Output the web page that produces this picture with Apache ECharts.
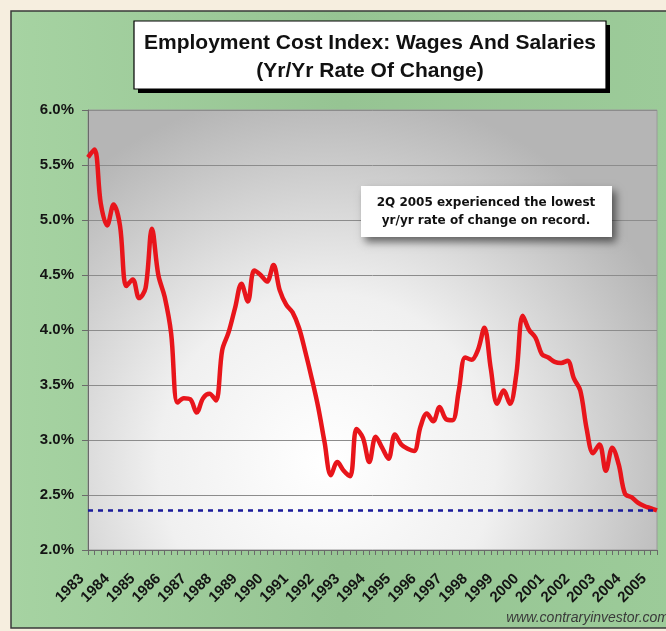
<!DOCTYPE html>
<html>
<head>
<meta charset="utf-8">
<title>Employment Cost Index: Wages And Salaries</title>
<script src="https://cdn.jsdelivr.net/npm/echarts@6/dist/echarts.min.js"></script>
<style>
  html, body { margin: 0; padding: 0; background: #f6eedf; }
  #chart { width: 666px; height: 631px; }
</style>
</head>
<body>
<div id="chart"></div>
<script>
// Year list used for the quarterly category axis (1983 Q1 .. 2005 Q2)
const years = [1983, 1984, 1985, 1986, 1987, 1988, 1989, 1990, 1991, 1992, 1993, 1994,
               1995, 1996, 1997, 1998, 1999, 2000, 2001, 2002, 2003, 2004, 2005];
const quarterNames = ['Q1', 'Q2', 'Q3', 'Q4'];

// ECI wages & salaries, year-over-year % change, one value per quarter
const wageGrowth = [
  5.57, 5.64, 5.15, 4.95, 5.14, 4.95, 4.40, 4.46, 4.29, 4.38,
  4.92, 4.50, 4.30, 3.97, 3.34, 3.38, 3.37, 3.25, 3.38, 3.42,
  3.36, 3.82, 3.98, 4.20, 4.42, 4.26, 4.54, 4.50, 4.44, 4.59,
  4.36, 4.23, 4.16, 4.02, 3.80, 3.56, 3.30, 2.98, 2.68, 2.80,
  2.72, 2.67, 3.10, 3.02, 2.80, 3.03, 2.93, 2.83, 3.05, 2.96,
  2.92, 2.90, 3.12, 3.24, 3.17, 3.30, 3.19, 3.18, 3.45, 3.75,
  3.73, 3.82, 4.02, 3.65, 3.33, 3.45, 3.33, 3.60, 4.13, 4.00,
  3.93, 3.78, 3.75, 3.71, 3.70, 3.72, 3.56, 3.45, 3.10, 2.88,
  2.96, 2.72, 2.93, 2.78, 2.51, 2.48, 2.43, 2.40, 2.38, 2.36
];

// Record-low reference level (2Q 2005)
const recordLow = 2.36;

// Y-axis range and step (percent)
const yMin = 2.0, yMax = 6.0, yStep = 0.5;

const titleLines = ['Employment Cost Index: Wages And Salaries', '(Yr/Yr Rate Of Change)'];
const noteLines = ['2Q 2005 experienced the lowest', 'yr/yr rate of change on record.'];
const sourceText = 'www.contraryinvestor.com';

const quarters = [];
years.forEach(y => quarterNames.forEach(q => quarters.push(y + ' ' + q)));
const categories = quarters.slice(0, wageGrowth.length);

const chart = echarts.init(document.getElementById('chart'), null, { renderer: 'canvas' });

const plotFill = new echarts.graphic.RadialGradient(0.42, 0.8, 0.85, [
  { offset: 0, color: '#ffffff' },
  { offset: 0.45, color: '#f0f0f0' },
  { offset: 1, color: '#b5b5b5' }
]);

const panelFill = new echarts.graphic.LinearGradient(0, 0, 1, 0, [
  { offset: 0, color: '#a6d3a2' },
  { offset: 0.5, color: '#96c493' },
  { offset: 1, color: '#9ccb99' }
]);

chart.setOption({
  animation: false,
  textStyle: { fontFamily: 'Liberation Sans, Arial, sans-serif' },
  graphic: [
    // green panel with dark frame line
    { type: 'rect', z: -100, shape: { x: 11, y: 11, width: 660, height: 617 },
      style: { fill: panelFill, stroke: '#3a3a3a', lineWidth: 1.5 } },
    // title box: solid drop shadow, then framed white card
    { type: 'rect', z: 49, shape: { x: 138, y: 25, width: 472, height: 68 },
      style: { fill: '#000000' } },
    { type: 'rect', z: 50, shape: { x: 134, y: 21, width: 472, height: 68 },
      style: { fill: '#ffffff', stroke: '#000000', lineWidth: 1.2 } },
    { type: 'text', z: 51, x: 370, y: 43,
      style: { text: titleLines[0], fill: '#111111', font: 'bold 21px "Liberation Sans", Arial, sans-serif',
               align: 'center', verticalAlign: 'middle' } },
    { type: 'text', z: 51, x: 370, y: 71,
      style: { text: titleLines[1], fill: '#111111', font: 'bold 21px "Liberation Sans", Arial, sans-serif',
               align: 'center', verticalAlign: 'middle' } },
    // annotation box
    { type: 'rect', z: 50, shape: { x: 361, y: 186, width: 251, height: 51 },
      style: { fill: '#ffffff', shadowColor: 'rgba(0,0,0,0.55)', shadowBlur: 8,
               shadowOffsetX: 4, shadowOffsetY: 5 } },
    { type: 'text', z: 51, x: 486, y: 203,
      style: { text: noteLines[0], fill: '#111111', font: 'bold 12px "DejaVu Sans", Verdana, sans-serif',
               align: 'center', verticalAlign: 'middle' } },
    { type: 'text', z: 51, x: 486, y: 221,
      style: { text: noteLines[1], fill: '#111111', font: 'bold 12px "DejaVu Sans", Verdana, sans-serif',
               align: 'center', verticalAlign: 'middle' } },
    // source line
    { type: 'text', z: 51, x: 669, y: 618,
      style: { text: sourceText, fill: '#3a3a3a', font: 'italic 14px "Liberation Sans", Arial, sans-serif',
               align: 'right', verticalAlign: 'middle' } }
  ],
  grid: {
    left: 88, top: 110, width: 569, height: 440,
    show: true, backgroundColor: plotFill, borderColor: '#9a9a9a', borderWidth: 1
  },
  xAxis: {
    type: 'category',
    data: categories,
    boundaryGap: false,
    axisLine: { lineStyle: { color: '#6a6a6a', width: 1 } },
    axisTick: { show: true, interval: 0, length: 5, lineStyle: { color: '#6a6a6a' } },
    axisLabel: {
      interval: (i) => i % 4 === 0,
      formatter: (v) => v.slice(0, 4),
      rotate: 45,
      margin: 20,
      padding: [0, 9, 0, 0],
      color: '#141414',
      fontWeight: 'bold',
      fontSize: 15,
      fontFamily: 'Liberation Sans, Arial, sans-serif'
    },
    splitLine: { show: false }
  },
  yAxis: {
    type: 'value',
    min: yMin, max: yMax, interval: yStep,
    axisLine: { show: true, lineStyle: { color: '#6a6a6a', width: 1 } },
    axisTick: { show: true, length: 6, lineStyle: { color: '#6a6a6a' } },
    axisLabel: {
      formatter: (v) => v.toFixed(1) + '%',
      margin: 14,
      color: '#141414',
      fontWeight: 'bold',
      fontSize: 15,
      fontFamily: 'Liberation Sans, Arial, sans-serif'
    },
    splitLine: { show: true, lineStyle: { color: '#8c8c8c', width: 1 } }
  },
  series: [{
    type: 'line',
    data: wageGrowth,
    smooth: 0.35,
    showSymbol: false,
    symbol: 'none',
    lineStyle: { color: '#e8151b', width: 4.5 },
    markLine: {
      silent: true,
      symbol: 'none',
      label: { show: false },
      lineStyle: { color: '#1a1a9a', width: 2.5, type: [5, 5] },
      data: [{ yAxis: recordLow }]
    }
  }]
});
</script>
</body>
</html>
